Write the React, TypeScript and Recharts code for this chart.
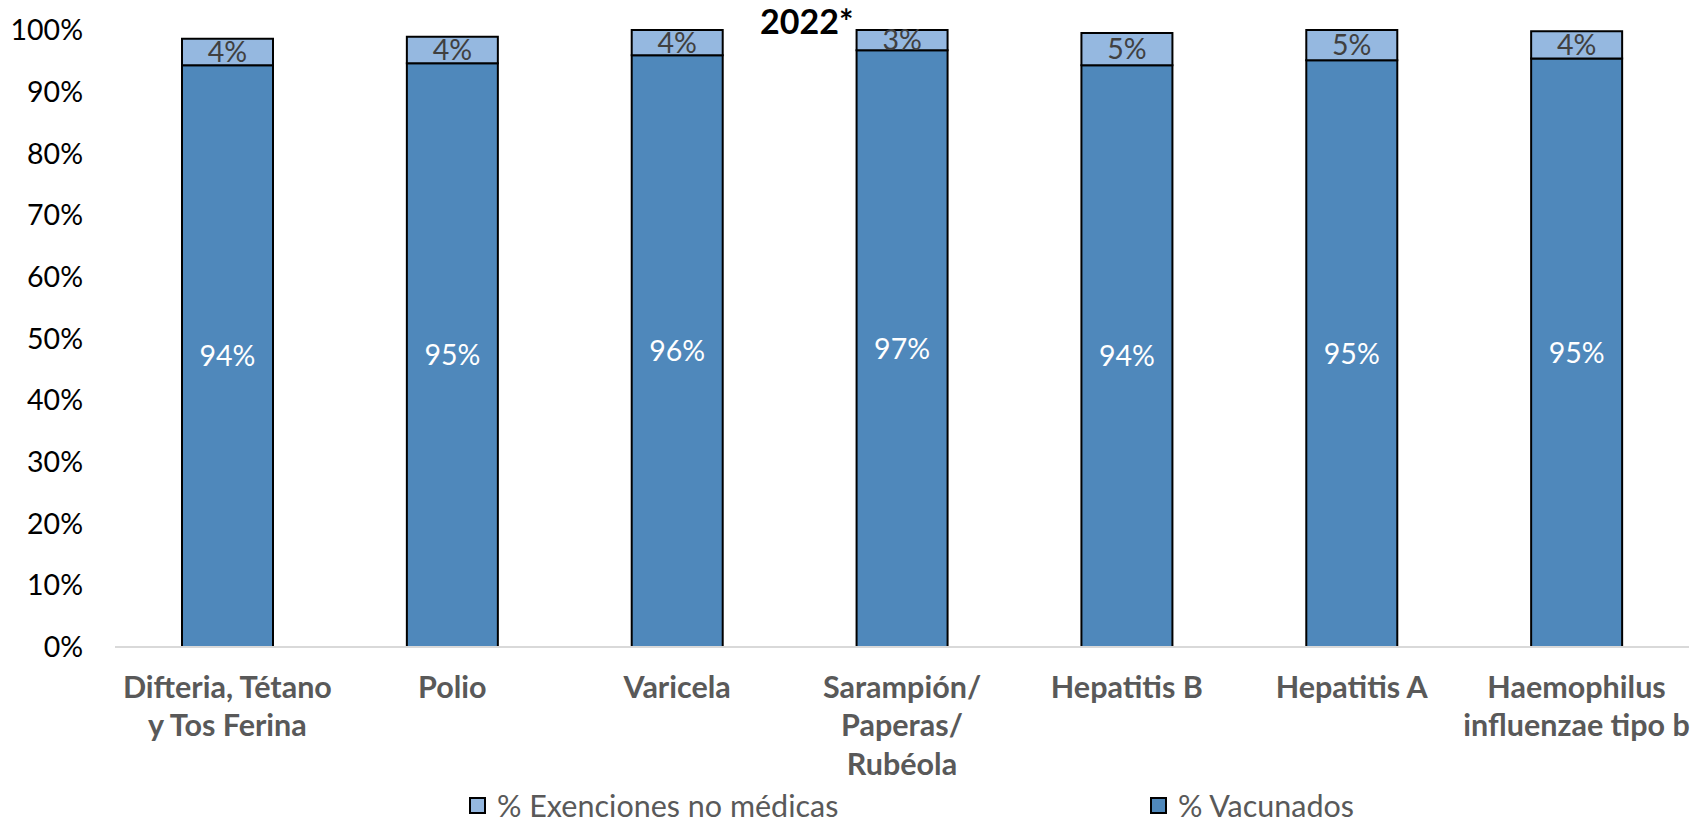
import { Bar, BarChart, LabelList, XAxis, YAxis } from "recharts";

const categories = [
  "Difteria, Tétano\ny Tos Ferina",
  "Polio",
  "Varicela",
  "Sarampión/\nPaperas/\nRubéola",
  "Hepatitis B",
  "Hepatitis A",
  "Haemophilus\ninfluenzae tipo b",
];
const vacunados = [94.3, 94.6, 95.9, 96.7, 94.3, 95.1, 95.4];
const exenciones = [4.3, 4.3, 4.1, 3.3, 5.2, 4.9, 4.4];
const yTicks = [0, 10, 20, 30, 40, 50, 60, 70, 80, 90, 100];
const seriesNames = ["% Exenciones no médicas", "% Vacunados"];

const DARK = "#4f88bb";
const LIGHT = "#95b8e0";
const FONT = "Lato, 'Open Sans', sans-serif";

const data = categories.map((name, i) => ({
  name,
  vac: vacunados[i],
  ex: exenciones[i],
}));

const pct = (v: number) => `${Math.round(v)}%`;

function CategoryTick({ x, y, payload }: any) {
  const lines = String(payload.value).split("\n");
  return (
    <text
      x={x}
      y={y}
      textAnchor="middle"
      fill="#595959"
      fontSize={30.5}
      fontWeight={700}
      fontFamily={FONT}
    >
      {lines.map((l, i) => (
        <tspan key={i} x={x} dy={i === 0 ? "0.71em" : 38.5}>
          {l}
        </tspan>
      ))}
    </text>
  );
}

function LegendItem({ left, color, label }: { left: number; color: string; label: string }) {
  return (
    <div
      style={{
        position: "absolute",
        left,
        top: 787,
        display: "flex",
        alignItems: "center",
        fontFamily: FONT,
        fontSize: 30.5,
        color: "#595959",
        whiteSpace: "nowrap",
      }}
    >
      <span
        style={{
          display: "inline-block",
          width: 13,
          height: 13,
          background: color,
          border: "2px solid #000",
          marginRight: 11,
        }}
      />
      {label}
    </div>
  );
}

export default function App() {
  return (
    <div style={{ position: "absolute", left: 0, top: 0, width: 1708, height: 822, background: "#fff" }}>
      <BarChart
        width={1708}
        height={822}
        data={data}
        margin={{ top: 30, right: 19, left: 0, bottom: 0 }}
        barSize={91}
      >
        <XAxis
          dataKey="name"
          height={175}
          interval={0}
          tickLine={false}
          tickSize={0}
          tickMargin={29}
          stroke="#d9d9d9"
          strokeWidth={2}
          tick={<CategoryTick />}
        />
        <YAxis
          width={115}
          domain={[0, 100]}
          ticks={yTicks}
          axisLine={false}
          tickLine={false}
          tickSize={0}
          tickMargin={32}
          tickFormatter={(v: number) => `${v}%`}
          tick={{ fill: "#000", fontSize: 28.5, fontFamily: FONT }}
        />
        <Bar dataKey="vac" stackId="a" fill={DARK} stroke="#000" strokeWidth={2} isAnimationActive={false}>
          <LabelList
            dataKey="vac"
            position="center"
            formatter={pct}
            fill="#fff"
            fontSize={28.5}
            fontFamily={FONT}
          />
        </Bar>
        <Bar dataKey="ex" stackId="a" fill={LIGHT} stroke="#000" strokeWidth={2} isAnimationActive={false}>
          <LabelList
            dataKey="ex"
            position="center"
            formatter={pct}
            fill="#404040"
            fontSize={28.5}
            fontFamily={FONT}
          />
        </Bar>
      </BarChart>
      <div
        style={{
          position: "absolute",
          left: 760,
          top: 0,
          fontFamily: FONT,
          fontWeight: 700,
          fontSize: 34,
          color: "#000",
        }}
      >
        2022*
      </div>
      <LegendItem left={469} color={LIGHT} label={seriesNames[0]} />
      <LegendItem left={1150} color={DARK} label={seriesNames[1]} />
    </div>
  );
}
